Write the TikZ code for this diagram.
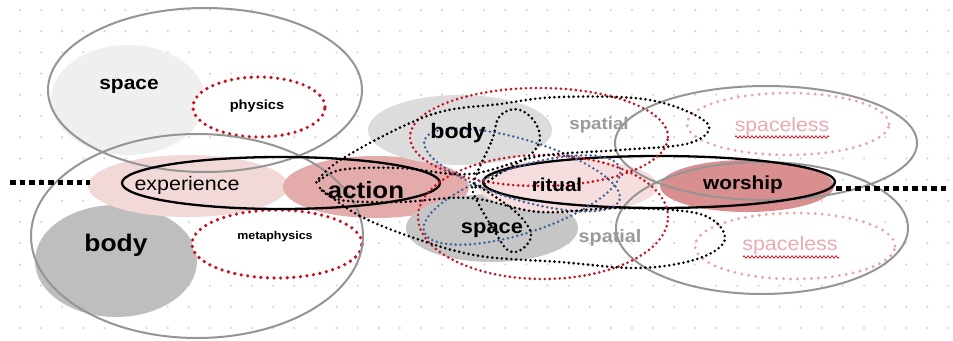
\documentclass[tikz,border=0pt]{standalone}
\usepackage{fontspec}
\setmainfont{Liberation Sans}[FakeStretch=1.1]
\usetikzlibrary{decorations.pathmorphing}
\definecolor{gridc}{HTML}{CFCFCF}
\definecolor{outl}{HTML}{959595}
\definecolor{lspace}{HTML}{EFEFEF}
\definecolor{lbody}{HTML}{BEBEBE}
\definecolor{mbody}{HTML}{DCDCDC}
\definecolor{mspace}{HTML}{C6C6C6}
\definecolor{expf}{HTML}{F3D8D8}
\definecolor{actf}{HTML}{E4ABAB}
\definecolor{ritf}{HTML}{F6DEDE}
\definecolor{worf}{HTML}{D98F8F}
\definecolor{dred}{HTML}{C8101E}
\definecolor{pinkd}{HTML}{EBA3A6}
\definecolor{pinkt}{HTML}{E9AAB2}
\definecolor{bluedot}{HTML}{3F6296}
\definecolor{graytext}{HTML}{9A9A9A}
\begin{document}
\begin{tikzpicture}[x=1pt,y=-1pt,
  outline/.style={draw=outl,line width=2pt},
  solidblk/.style={draw=black,line width=2.3pt},
  bigred/.style={draw=dred,line width=3.6pt,line cap=round,dash pattern=on 0pt off 6.6pt},
  thinred/.style={draw=dred,line width=2.9pt,line cap=round,dash pattern=on 0pt off 5pt},
  thinblk/.style={draw=black,line width=2.9pt,line cap=round,dash pattern=on 0pt off 4.8pt},
  thinblue/.style={draw=bluedot,line width=2.8pt,line cap=round,dash pattern=on 0pt off 4.8pt},
  pinkdot/.style={draw=pinkd,line width=3.2pt,line cap=round,dash pattern=on 0pt off 7pt},
  thickdash/.style={draw=black,line width=5pt,dash pattern=on 5.5pt off 4pt},
  squig/.style={draw=dred,line width=0.7pt,decorate,decoration={zigzag,amplitude=1.3pt,segment length=4pt}},
  lbl/.style={inner sep=0pt,text=black}]
\useasboundingbox (0,0) rectangle (953,340);
\fill[white] (0,0) rectangle (953,340);
% dot grid
\foreach \i in {0,...,44}{\foreach \j in {0,...,15}{\fill[gridc] (20+21.1*\i,10+21.2*\j) circle[radius=1.1pt];}}
% fills
\fill[lspace] (128,100) ellipse[x radius=77pt,y radius=55pt];
\fill[lbody] (116,261) ellipse[x radius=81pt,y radius=56pt];
\fill[expf] (188,186) ellipse[x radius=100pt,y radius=31pt];
\fill[actf] (376,187) ellipse[x radius=93pt,y radius=31pt];
\fill[mbody] (460,130) ellipse[x radius=92pt,y radius=35pt];
\fill[mspace] (492,228) ellipse[x radius=86pt,y radius=34pt];
\fill[ritf] (568,186) ellipse[x radius=90pt,y radius=27pt];
\fill[worf] (747,186) ellipse[x radius=87pt,y radius=26pt];
% white dotted ellipses
\path[fill=white,bigred] (259,107) ellipse[x radius=66pt,y radius=30pt];
\path[fill=white,bigred] (277,244) ellipse[x radius=85pt,y radius=34pt];
\path[fill=white,pinkdot] (788,124) ellipse[x radius=101pt,y radius=31pt];
\path[fill=white,pinkdot] (795,246) ellipse[x radius=100pt,y radius=33pt];
% gray outlines
\draw[outline] (205,90) ellipse[x radius=157pt,y radius=82pt];
\draw[outline] (197,236) ellipse[x radius=166pt,y radius=102pt];
\draw[outline] (766,143) ellipse[x radius=151pt,y radius=57pt];
\draw[outline] (762,228) ellipse[x radius=146pt,y radius=66pt];
% thick dashed axis
\coordinate (axl1) at (10,182);
\coordinate (axl2) at (90,182);
\coordinate (axr1) at (836,188);
\coordinate (axr2) at (948,188);
\draw[thickdash] (axl1) -- (axl2);
\draw[thickdash] (axr1) -- (axr2);
% solid black ellipses
\draw[solidblk] (281,183) ellipse[x radius=159pt,y radius=26pt];
\draw[solidblk] (659,182) ellipse[x radius=176pt,y radius=26pt];
% red dotted central
\draw[thinred] (539,137) ellipse[x radius=129pt,y radius=49pt];
\draw[thinred] (543,217) ellipse[x radius=125pt,y radius=62pt];
% blue dotted
\draw[thinblue] (522,170) ellipse[x radius=102pt,y radius=30pt,rotate=-17];
\draw[thinblue] (522,200) ellipse[x radius=103pt,y radius=33pt,rotate=18];
% black dotted
\draw[thinblk] plot[smooth cycle,tension=0.6] coordinates{(316,183) (345,157) (430,115) (500,104) (560,97) (650,100) (707,123) (690,143) (620,150) (540,156) (470,174) (400,168) (340,170)};
\draw[thinblk] plot[smooth cycle,tension=0.6] coordinates{(320,188) (360,216) (420,240) (480,256) (560,262) (640,268) (700,258) (725,238) (700,214) (620,208) (540,212) (470,198) (400,202) (340,200)};
\draw[thinblk] plot[smooth cycle,tension=0.7] coordinates{(474,186) (492,140) (500,116) (520,110) (538,128) (535,150) (505,170)};
\draw[thinblk] plot[smooth cycle,tension=0.7] coordinates{(472,187) (500,200) (525,222) (530,240) (512,252) (495,232)};
% labels
\node[lbl,font=\bfseries\fontsize{19}{19}\selectfont] (tspace1) at (129,86) {space};
\node[lbl,font=\bfseries\fontsize{13.3}{13.3}\selectfont] (tphys) at (257,106) {physics};
\node[lbl,font=\fontsize{19.5}{19.5}\selectfont] (texp) at (187,185) {experience};
\node[lbl,font=\bfseries\fontsize{23.5}{23.5}\selectfont] (tact) at (366,190) {action};
\node[lbl,font=\bfseries\fontsize{24}{24}\selectfont] (tbody1) at (116,245) {body};
\node[lbl,font=\bfseries\fontsize{11.3}{11.3}\selectfont] (tmeta) at (275,237) {metaphysics};
\node[lbl,font=\bfseries\fontsize{21}{21}\selectfont] (tbody2) at (458,133) {body};
\node[lbl,text=graytext,font=\bfseries\fontsize{17}{17}\selectfont] (tspat1) at (599,125) {spatial};
\node[lbl,text=pinkt,font=\fontsize{19.3}{19.3}\selectfont] (tsl1) at (782,127) {spaceless};
\node[lbl,font=\bfseries\fontsize{18.7}{18.7}\selectfont] (trit) at (557,185) {ritual};
\node[lbl,font=\bfseries\fontsize{18.9}{18.9}\selectfont] (twor) at (743,185) {worship};
\node[lbl,font=\bfseries\fontsize{19.9}{19.9}\selectfont] (tspace2) at (492,230) {space};
\node[lbl,text=graytext,font=\bfseries\fontsize{18}{18}\selectfont] (tspat2) at (610,238) {spatial};
\node[lbl,text=pinkt,font=\fontsize{19.5}{19.5}\selectfont] (tsl2) at (790,245) {spaceless};
% spell-check squiggles
\coordinate (sq1a) at (735,137);
\coordinate (sq1b) at (829,137);
\coordinate (sq2a) at (743,257);
\coordinate (sq2b) at (839,257);
\draw[squig] (sq1a) -- (sq1b);
\draw[squig] (sq2a) -- (sq2b);
\end{tikzpicture}
\end{document}
